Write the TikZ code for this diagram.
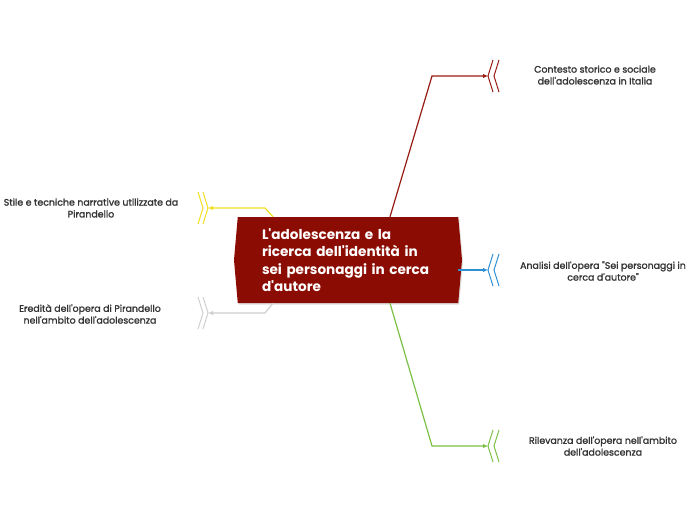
\documentclass[tikz,border=0pt]{standalone}
\usepackage{fontspec}
\setmainfont{Poppins}[Ligatures=TeXOff]
\newfontfamily\topicfont{Poppins}[Ligatures=TeXOff,FakeBold=1.4]
\usetikzlibrary{shapes.symbols,arrows.meta,shadows,positioning}
\definecolor{mainred}{HTML}{8B0C03}
\definecolor{redline}{HTML}{971B12}
\definecolor{blueline}{HTML}{2D8FD5}
\definecolor{greenline}{HTML}{7CC046}
\definecolor{yellowline}{HTML}{F3DF1E}
\definecolor{greyline}{HTML}{CFCFCF}
\definecolor{textgrey}{HTML}{333333}
\begin{document}
\begin{tikzpicture}[x=1pt,y=-1pt,
mainnode/.style={signal, signal to=east and west, signal pointer angle=170, fill=mainred, minimum width=228pt, minimum height=86pt, inner sep=0pt, text=white, text width=172pt, align=left, font=\bfseries\fontsize{13.6}{17.5}\selectfont, drop shadow={opacity=0.25, shadow xshift=1pt, shadow yshift=-1.5pt}},
topictext/.style={text=textgrey, align=center, font=\topicfont\fontsize{9.4}{11.8}\selectfont},
branch/.style={line width=1.2pt, -{Latex[length=5pt,width=4.5pt]}},
chev/.style={line width=1pt},
]
\useasboundingbox[fill=white] (0,0) rectangle (697,520);
%Nodes
\node[mainnode] at (348,260) (main) {L'adolescenza e la\\ricerca dell'identità in\\sei personaggi in cerca\\d'autore};
\coordinate (ctx) at (488,76);
\coordinate (ana) at (488,270);
\coordinate (ril) at (488,446);
\coordinate (sti) at (208,208);
\coordinate (ere) at (208,313);
\node[topictext] at (595,75) (ctxtext) {Contesto storico e sociale\\dell'adolescenza in Italia};
\node[topictext] at (603,271) (anatext) {Analisi dell'opera "Sei personaggi in\\cerca d'autore"};
\node[topictext] at (603,446) (riltext) {Rilevanza dell'opera nell'ambito\\dell'adolescenza};
\node[topictext] at (91,208) (stitext) {Stile e tecniche narrative utilizzate da\\Pirandello};
\node[topictext] at (90,314) (eretext) {Eredità dell'opera di Pirandello\\nell'ambito dell'adolescenza};
%Lines
\draw[branch, redline] ([xshift=42pt]main.north) -- ([xshift=-56pt]ctx) -- (ctx);
\draw[branch, blueline] ([xshift=-4pt,yshift=-10pt]main.east) -- (ana);
\draw[branch, greenline] ([xshift=42pt]main.south) -- ([xshift=-56pt]ril) -- (ril);
\draw[branch, yellowline] ([xshift=-75pt]main.north) -- ([xshift=57pt]sti) -- (sti);
\draw[branch, greyline] ([xshift=-75pt]main.south) -- ([xshift=57pt]ere) -- (ere);
%Chevrons
\draw[chev, redline] (ctx) ++(5,-16) -- ++(-5,16) -- ++(5,16);
\draw[chev, redline] (ctx) ++(11,-16) -- ++(-5,16) -- ++(5,16);
\draw[chev, blueline] (ana) ++(5,-16) -- ++(-5,16) -- ++(5,16);
\draw[chev, blueline] (ana) ++(11,-16) -- ++(-5,16) -- ++(5,16);
\draw[chev, greenline] (ril) ++(5,-16) -- ++(-5,16) -- ++(5,16);
\draw[chev, greenline] (ril) ++(11,-16) -- ++(-5,16) -- ++(5,16);
\draw[chev, yellowline] (sti) ++(-5,-16) -- ++(5,16) -- ++(-5,16);
\draw[chev, yellowline] (sti) ++(-10,-16) -- ++(5,16) -- ++(-5,16);
\draw[chev, greyline] (ere) ++(-5,-16) -- ++(5,16) -- ++(-5,16);
\draw[chev, greyline] (ere) ++(-10,-16) -- ++(5,16) -- ++(-5,16);
\end{tikzpicture}
\end{document}
